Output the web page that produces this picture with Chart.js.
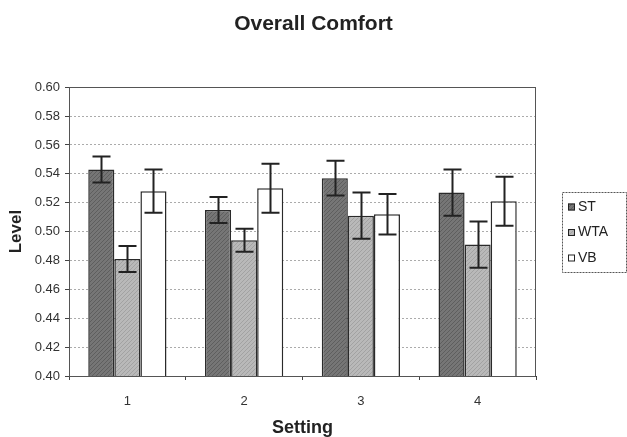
<!DOCTYPE html>
<html>
<head>
<meta charset="utf-8">
<title>Overall Comfort</title>
<script src="https://cdn.jsdelivr.net/npm/chart.js@4"></script>
<style>
  html, body { margin: 0; padding: 0; background: #fff; }
  #chart { display: block; }
</style>
</head>
<body>
<canvas id="chart" width="627" height="437"></canvas>
<script>
// values (mean level, +/- error per setting)
var SETTINGS = ['1', '2', '3', '4'];
var ST = [0.543, 0.515, 0.537, 0.527];
var ST_ERR = [0.009, 0.009, 0.012, 0.016];
var WTA = [0.481, 0.494, 0.511, 0.491];
var WTA_ERR = [0.009, 0.008, 0.016, 0.016];
var VB = [0.528, 0.530, 0.512, 0.521];
var VB_ERR = [0.015, 0.017, 0.014, 0.017];

var FONT = "'Liberation Sans', Arial, Helvetica, sans-serif";
var INK = '#222';

/** fine diagonal texture, like the scanned print of the original */
function hatch(base, line) {
  var c = document.createElement('canvas');
  c.width = 4; c.height = 4;
  var g = c.getContext('2d');
  g.fillStyle = base; g.fillRect(0, 0, 4, 4);
  g.fillStyle = line;
  for (var i = 0; i < 4; i++) g.fillRect(i, 3 - i, 1, 1);
  return g.createPattern(c, 'repeat');
}

function series(label, data, err, fill) {
  return {
    label: label, data: data, err: err,
    backgroundColor: fill, borderColor: '#2a2a2a', borderWidth: 1.5,
    categoryPercentage: 0.67, barPercentage: 1.0
  };
}

/* grey frame around the plot area, like the old spreadsheet chart */
var frame = {
  id: 'frame',
  beforeDatasetsDraw: function (chart) {
    var a = chart.chartArea, ctx = chart.ctx;
    ctx.save();
    ctx.strokeStyle = '#555';
    ctx.lineWidth = 1;
    ctx.strokeRect(Math.round(a.left) + 0.5, Math.round(a.top) + 0.5,
      Math.round(a.right - a.left) - 1, Math.round(a.bottom - a.top));
    ctx.restore();
  }
};

/* +/- error whiskers on top of every bar */
var whiskers = {
  id: 'whiskers',
  afterDatasetsDraw: function (chart) {
    var ctx = chart.ctx, y = chart.scales.y;
    ctx.save();
    ctx.strokeStyle = INK;
    ctx.lineWidth = 2;
    chart.data.datasets.forEach(function (ds, di) {
      chart.getDatasetMeta(di).data.forEach(function (bar, i) {
        var v = ds.data[i], e = ds.err[i];
        var hi = y.getPixelForValue(v + e), lo = y.getPixelForValue(v - e);
        var x = Math.round(bar.x) + 0.5, cap = 9;
        ctx.beginPath();
        ctx.moveTo(x, hi); ctx.lineTo(x, lo);
        ctx.moveTo(x - cap, hi); ctx.lineTo(x + cap, hi);
        ctx.moveTo(x - cap, lo); ctx.lineTo(x + cap, lo);
        ctx.stroke();
      });
    });
    ctx.restore();
  }
};

/* boxed legend to the right of the plot */
var boxLegend = {
  id: 'boxLegend',
  afterDraw: function (chart) {
    var ctx = chart.ctx, a = chart.chartArea;
    var left = Math.round(a.right) + 26, top = 192, w = 64, h = 80;
    ctx.save();
    ctx.setLineDash([2, 1]);
    ctx.strokeStyle = '#555';
    ctx.lineWidth = 1;
    ctx.strokeRect(left + 0.5, top + 0.5, w, h);
    ctx.setLineDash([]);
    ctx.font = '14px ' + FONT;
    ctx.textBaseline = 'middle';
    chart.data.datasets.forEach(function (ds, i) {
      var cy = top + 15 + i * 25.5;
      ctx.fillStyle = ds.backgroundColor;
      ctx.fillRect(left + 6, cy - 3.5, 7, 7);
      ctx.strokeStyle = INK;
      ctx.strokeRect(left + 6.5, cy - 3, 6, 6);
      ctx.fillStyle = INK;
      ctx.fillText(ds.label, left + 16, cy);
    });
    ctx.restore();
  }
};

new Chart(document.getElementById('chart'), {
  type: 'bar',
  data: {
    labels: SETTINGS,
    datasets: [
      series('ST', ST, ST_ERR, hatch('#767676', '#5e5e5e')),
      series('WTA', WTA, WTA_ERR, hatch('#b9b9b9', '#a2a2a2')),
      series('VB', VB, VB_ERR, '#ffffff')
    ]
  },
  options: {
    responsive: false,
    animation: false,
    devicePixelRatio: 1,
    layout: { padding: 0 },
    plugins: {
      legend: { display: false },
      tooltip: { enabled: false },
      title: {
        display: true, text: 'Overall Comfort', color: INK,
        font: { family: FONT, size: 21, weight: 'bold', lineHeight: 1.2 },
        padding: { top: 12, bottom: 50 }
      }
    },
    scales: {
      x: {
        grid: { drawOnChartArea: false, drawTicks: true, tickLength: 4, color: '#444', offset: true },
        border: { color: '#333', width: 1 },
        ticks: { color: '#333', padding: 14, font: { family: FONT, size: 13 } },
        title: {
          display: true, text: 'Setting', color: INK,
          font: { family: FONT, size: 18, weight: 'bold', lineHeight: 1 },
          padding: 0
        },
        afterFit: function (s) { s.height = 61; }
      },
      y: {
        min: 0.40, max: 0.60,
        grid: { color: '#ababab', tickColor: '#444', tickLength: 4 },
        border: { color: '#333', width: 1, dash: [2, 2] },
        ticks: {
          stepSize: 0.02, color: '#333', padding: 5,
          font: { family: FONT, size: 13 },
          callback: function (v) { return Number(v).toFixed(2); }
        },
        title: {
          display: true, text: 'Level', color: INK,
          font: { family: FONT, size: 17, weight: 'bold', lineHeight: 1.2 },
          padding: { top: 6, bottom: 0 }
        },
        afterFit: function (s) { s.width = 69; }
      },
      // empty right-hand axis only reserves room for the boxed legend
      side: {
        type: 'linear', position: 'right', display: true,
        grid: { display: false }, border: { display: false },
        ticks: { display: false },
        afterFit: function (s) { s.width = 91; }
      }
    }
  },
  plugins: [frame, whiskers, boxLegend]
});
</script>
</body>
</html>
